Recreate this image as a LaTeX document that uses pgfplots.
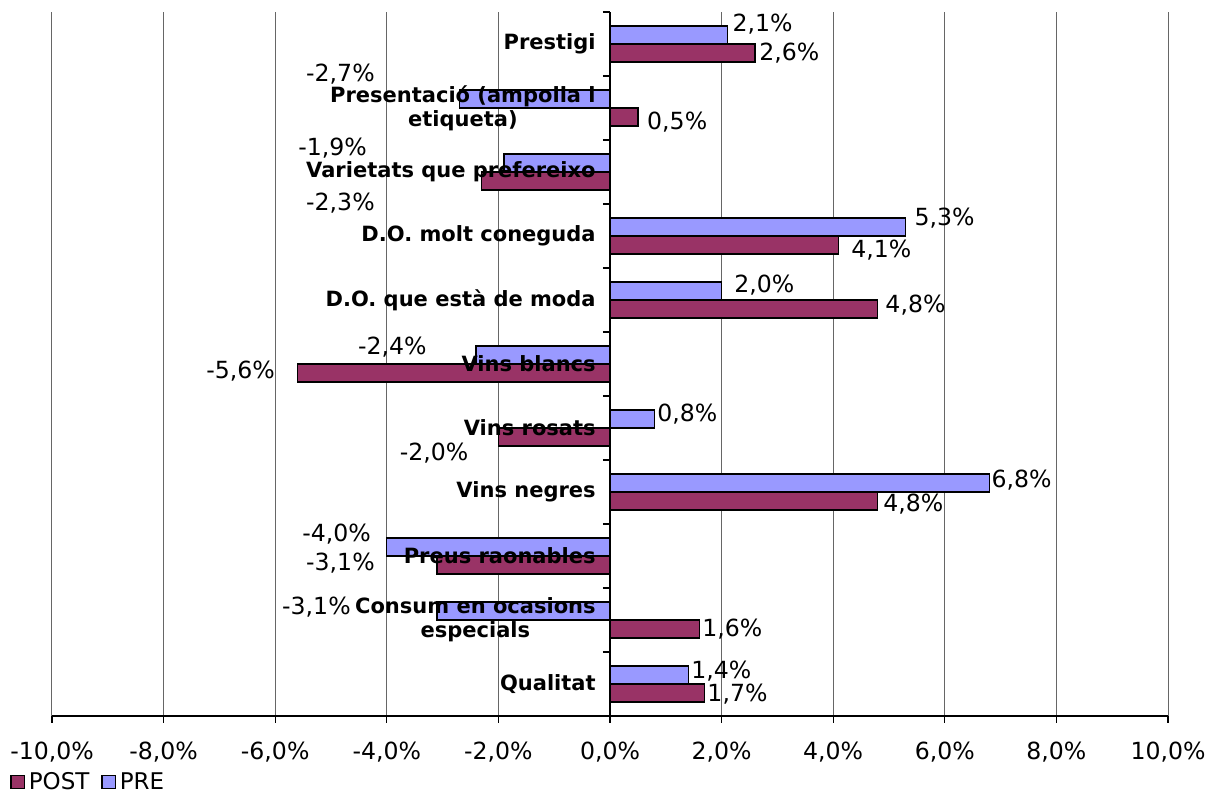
\documentclass[border=0pt]{standalone}
\usepackage{pgfplots}
\pgfplotsset{compat=1.18}
\usepackage{fontspec}
\setmainfont{DejaVu Sans}
\definecolor{prebar}{HTML}{9999FF}
\definecolor{postbar}{HTML}{993366}

\tikzset{lbl/.style={inner sep=0pt,font=\fontsize{11.8}{14}\selectfont},
  cat/.style={inner sep=0pt,anchor=east,align=center,font=\fontsize{10.5}{12}\selectfont\bfseries}}

\begin{document}
\begin{tikzpicture}
\path[use as bounding box] (-26pt,-38pt) rectangle (580pt,358pt);
\begin{axis}[
  at={(0,0)},anchor=south west,
  scale only axis,width=558pt,height=352pt,
  xmin=-10,xmax=10,ymin=-0.5,ymax=10.5,
  axis x line=bottom,axis y line=center,
  axis line style={-,black,line width=0.6pt},
  xtick={-10,-8,-6,-4,-2,0,2,4,6,8,10},
  xticklabels={{-10,0\%},{-8,0\%},{-6,0\%},{-4,0\%},{-2,0\%},{0,0\%},{2,0\%},{4,0\%},{6,0\%},{8,0\%},{10,0\%}},
  xticklabel style={font=\fontsize{11.8}{14}\selectfont,yshift=-6pt},
  xmajorgrids,grid style={black!60,line width=0.5pt},
  tick align=outside,major tick length=3.5pt,
  tick style={black,line width=0.6pt},
  ytick={-0.5,0.5,1.5,2.5,3.5,4.5,5.5,6.5,7.5,8.5,9.5,10.5},yticklabels={},
  legend style={at={(rel axis cs:-0.0376,-0.094)},anchor=west,draw=none,fill=none,
    inner sep=0pt,font=\fontsize{11.5}{14}\selectfont,
    /tikz/every even column/.append style={column sep=4pt}},
  legend columns=2,
]
\addplot[xbar,bar shift=0pt,bar width=0.28,fill=postbar,draw=black,line width=0.6pt,
  legend image code/.code={\draw[fill=postbar,draw=black,line width=0.6pt] (0pt,-3.3pt) rectangle (6.6pt,3.3pt);}]
  coordinates {(1.7,-0.14) (1.6,0.86) (-3.1,1.86) (4.8,2.86) (-2.0,3.86) (-5.6,4.86) (4.8,5.86) (4.1,6.86) (-2.3,7.86) (0.5,8.86) (2.6,9.86)};
\addlegendentry{POST}
\addplot[xbar,bar shift=0pt,bar width=0.28,fill=prebar,draw=black,line width=0.6pt,
  legend image code/.code={\draw[fill=prebar,draw=black,line width=0.6pt] (0pt,-3.3pt) rectangle (6.6pt,3.3pt);}]
  coordinates {(1.4,0.14) (-3.1,1.14) (-4.0,2.14) (6.8,3.14) (0.8,4.14) (-2.4,5.14) (2.0,6.14) (5.3,7.14) (-1.9,8.14) (-2.7,9.14) (2.1,10.14)};
\addlegendentry{PRE}

% category names
\node[cat] at (axis cs:-0.25,10) {Prestigi};
\node[cat] at (axis cs:-0.25,9) {Presentació (ampolla i\\etiqueta)};
\node[cat] at (axis cs:-0.25,8) {Varietats que prefereixo};
\node[cat] at (axis cs:-0.25,7) {D.O. molt coneguda};
\node[cat] at (axis cs:-0.25,6) {D.O. que està de moda};
\node[cat] at (axis cs:-0.25,5) {Vins blancs};
\node[cat] at (axis cs:-0.25,4) {Vins rosats};
\node[cat] at (axis cs:-0.25,3) {Vins negres};
\node[cat] at (axis cs:-0.25,2) {Preus raonables};
\node[cat] at (axis cs:-0.25,1) {Consum en ocasions\\especials};
\node[cat] at (axis cs:-0.25,0) {Qualitat};

% value labels
\node[lbl,anchor=west] at (axis cs:2.19,10.31) {2,1\%};
\node[lbl,anchor=west] at (axis cs:2.67,9.86) {2,6\%};
\node[lbl,anchor=east] at (axis cs:-4.21,9.53) {-2,7\%};
\node[lbl,anchor=west] at (axis cs:0.66,8.78) {0,5\%};
\node[lbl,anchor=east] at (axis cs:-4.35,8.375) {-1,9\%};
\node[lbl,anchor=east] at (axis cs:-4.21,7.52) {-2,3\%};
\node[lbl,anchor=west] at (axis cs:5.45,7.28) {5,3\%};
\node[lbl,anchor=west] at (axis cs:4.32,6.78) {4,1\%};
\node[lbl,anchor=west] at (axis cs:2.22,6.23) {2,0\%};
\node[lbl,anchor=west] at (axis cs:4.93,5.92) {4,8\%};
\node[lbl,anchor=east] at (axis cs:-3.28,5.27) {-2,4\%};
\node[lbl,anchor=east] at (axis cs:-6.0,4.89) {-5,6\%};
\node[lbl,anchor=west] at (axis cs:0.84,4.22) {0,8\%};
\node[lbl,anchor=east] at (axis cs:-2.53,3.61) {-2,0\%};
\node[lbl,anchor=west] at (axis cs:6.83,3.19) {6,8\%};
\node[lbl,anchor=west] at (axis cs:4.89,2.81) {4,8\%};
\node[lbl,anchor=east] at (axis cs:-4.28,2.34) {-4,0\%};
\node[lbl,anchor=east] at (axis cs:-4.21,1.89) {-3,1\%};
\node[lbl,anchor=east] at (axis cs:-4.64,1.20) {-3,1\%};
\node[lbl,anchor=west] at (axis cs:1.65,0.86) {1,6\%};
\node[lbl,anchor=west] at (axis cs:1.45,0.20) {1,4\%};
\node[lbl,anchor=west] at (axis cs:1.74,-0.16) {1,7\%};
\end{axis}
\end{tikzpicture}
\end{document}
